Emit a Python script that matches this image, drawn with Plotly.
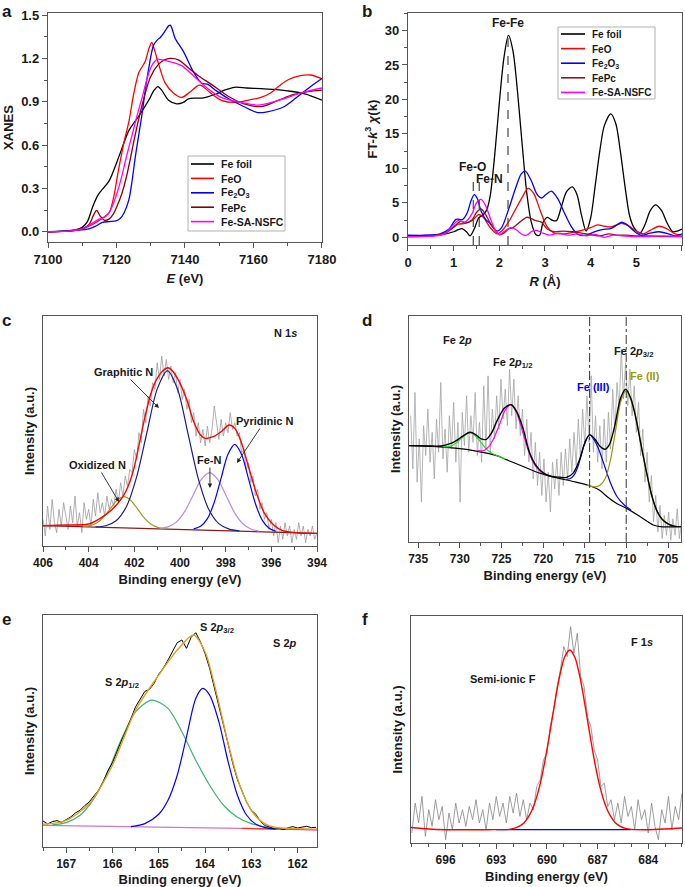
import plotly.graph_objects as go

FONT = "Liberation Sans, Arial, Helvetica, sans-serif"
INK = "#1a1a1a"
AXIS_LINE = "#555555"
W, H = 685, 887

# ---------------- (a) Fe K-edge XANES ----------------
A_FOIL_E = [7100, 7105, 7108, 7110, 7111.5, 7113, 7114.5, 7115.4, 7117.8, 7120.7,
            7123.6, 7126.5, 7129.4, 7131, 7132.1, 7133.2, 7135.2, 7137.6, 7139.5, 7141,
            7143, 7145, 7148.7, 7151.5, 7154.5, 7158, 7162.2, 7166, 7170, 7175, 7180]
A_FOIL = [0.0, 0.004, 0.012, 0.03, 0.07, 0.17, 0.25, 0.28, 0.35, 0.52,
          0.70, 0.80, 0.91, 0.98, 1.005, 0.98, 0.91, 0.885, 0.895, 0.92,
          0.925, 0.925, 0.95, 0.98, 1.0, 0.995, 0.99, 0.985, 0.975, 0.955, 0.91]
A_FEO_E = [7100, 7106, 7110, 7113, 7115, 7117.8, 7119, 7120.6, 7122.2, 7123.6,
           7125, 7126.5, 7128.4, 7129.5, 7130.3, 7131.2, 7132.3, 7134.2, 7136.6, 7139,
           7141.4, 7144, 7145, 7147.2, 7150.6, 7154.5, 7158.3, 7162.2, 7165, 7167,
           7170, 7173.7, 7176.6, 7180]
A_FEO = [0.0, 0.006, 0.02, 0.05, 0.08, 0.13, 0.22, 0.43, 0.62, 0.76,
         0.95, 1.10, 1.18, 1.27, 1.31, 1.25, 1.16, 1.03, 0.96, 0.93,
         0.965, 1.015, 1.01, 0.965, 0.91, 0.895, 0.91, 0.93, 0.96, 1.0,
         1.05, 1.08, 1.085, 1.06]
A_FE2O3_E = [7100, 7108, 7112, 7114, 7115.9, 7118, 7119.8, 7121, 7122.2, 7123.6,
             7124.6, 7125.5, 7126.5, 7127.5, 7128.4, 7129.4, 7130.8, 7132, 7132.8, 7134.2,
             7135.2, 7135.7, 7136.3, 7137.1, 7139.5, 7142.4, 7144.8, 7146.7, 7149.2, 7153.5,
             7157.3, 7161.2, 7164, 7168.9, 7173.7, 7177, 7180]
A_FE2O3 = [0.0, 0.01, 0.02, 0.04, 0.065, 0.07, 0.075, 0.09, 0.13, 0.22,
           0.36, 0.52, 0.67, 0.82, 0.98, 1.13, 1.29, 1.33, 1.345, 1.39,
           1.425, 1.43, 1.40, 1.34, 1.25, 1.11, 1.03, 1.02, 0.975, 0.91,
           0.865, 0.825, 0.83, 0.865, 0.95, 1.01, 1.06]
A_FEPC_E = [7100, 7107, 7110, 7112, 7113.2, 7114.2, 7115.2, 7116.4, 7117.8, 7119,
            7120.2, 7121.5, 7122.7, 7124, 7125.1, 7126.3, 7127.5, 7129.9, 7132.3, 7134,
            7135.7, 7138.1, 7141, 7143.9, 7147.7, 7152.5, 7157.3, 7162.2, 7167, 7171.8,
            7176, 7180]
A_FEPC = [0.0, 0.006, 0.02, 0.05, 0.11, 0.148, 0.11, 0.08, 0.087, 0.12,
          0.18, 0.26, 0.36, 0.50, 0.63, 0.76, 0.88, 1.07, 1.16, 1.19,
          1.20, 1.19, 1.135, 1.08, 1.02, 0.94, 0.885, 0.866, 0.907, 0.95,
          0.97, 0.98]
A_SA_E = [7100, 7107, 7110, 7112, 7114.9, 7116.5, 7117.8, 7119, 7120.2, 7121.5,
          7122.7, 7124, 7125.1, 7126.3, 7127.5, 7128.7, 7129.9, 7131, 7132.1, 7133.5,
          7135.2, 7139, 7142.9, 7146.7, 7150.6, 7156.4, 7161.2, 7167, 7173.7, 7180]
A_SA = [0.0, 0.006, 0.02, 0.045, 0.087, 0.10, 0.13, 0.19, 0.27, 0.38,
        0.50, 0.62, 0.72, 0.83, 0.93, 1.04, 1.13, 1.175, 1.195, 1.19,
        1.18, 1.15, 1.07, 0.99, 0.93, 0.895, 0.877, 0.907, 0.96, 0.995]

SAMPLES = ["Fe foil", "FeO", "Fe<sub>2</sub>O<sub>3</sub>", "FePc", "Fe-SA-NSFC"]
A_COLORS = ["#000000", "#ff0000", "#0000ff", "#8b0000", "#ff00ff"]
B_COLORS = ["#000000", "#ff0000", "#0000ff", "#8b1a1a", "#ff00ff"]

# ---------------- (b) FT-EXAFS ----------------
B_FOIL_R = [0, 0.3, 0.6, 0.8, 1.0, 1.1, 1.18, 1.28, 1.36, 1.45,
            1.55, 1.65, 1.72, 1.8, 1.9, 2.0, 2.1, 2.2, 2.3, 2.4,
            2.5, 2.6, 2.7, 2.8, 2.88, 2.96, 3.05, 3.15, 3.25, 3.35,
            3.47, 3.6, 3.7, 3.8, 3.9, 4.0, 4.1, 4.2, 4.3, 4.44,
            4.55, 4.65, 4.75, 4.85, 4.95, 5.08, 5.2, 5.3, 5.42, 5.55,
            5.68, 5.8, 5.9, 6.0]
B_FOIL = [0.2, 0.25, 0.3, 0.45, 0.8, 1.1, 1.25, 0.8, 0.2, 1.2,
          2.8, 3.3, 3.9, 6.0, 12.0, 19.5, 26.0, 29.3, 27.0, 21.0,
          13.5, 6.5, 2.2, 0.4, 0.3, 2.2, 2.9, 2.5, 2.4, 4.2,
          6.6, 7.3, 6.2, 3.2, 0.9, 2.8, 7.5, 12.5, 16.2, 17.9,
          16.5, 12.5, 7.5, 3.2, 1.4, 0.6, 2.0, 3.8, 4.7, 3.9,
          2.0, 0.8, 0.9, 1.2]
B_FEO_R = [0, 0.5, 0.8, 0.95, 1.1, 1.25, 1.4, 1.55, 1.65, 1.8,
           1.95, 2.05, 2.2, 2.35, 2.5, 2.63, 2.75, 2.9, 3.05, 3.2,
           3.4, 3.6, 3.8, 4.0, 4.15, 4.3, 4.45, 4.6, 4.7, 4.85,
           5.0, 5.15, 5.3, 5.5, 5.65, 5.85, 6.0]
B_FEO = [0.1, 0.2, 0.5, 1.2, 1.9, 2.0, 2.4, 3.3, 2.9, 1.4,
         0.5, 0.9, 2.2, 4.0, 5.8, 7.1, 6.4, 3.8, 1.5, 0.6,
         0.5, 0.7, 1.0, 1.4, 1.8, 1.6, 1.5, 1.9, 2.0, 1.6,
         0.9, 0.5, 1.0, 1.6, 1.3, 0.5, 0.3]
B_FE2O3_R = [0, 0.4, 0.7, 0.9, 1.05, 1.2, 1.3, 1.38, 1.45, 1.52,
             1.6, 1.7, 1.8, 1.95, 2.05, 2.2, 2.35, 2.48, 2.57, 2.7,
             2.82, 2.92, 3.02, 3.14, 3.28, 3.42, 3.58, 3.72, 3.9, 4.05,
             4.25, 4.45, 4.58, 4.68, 4.8, 4.95, 5.1, 5.3, 5.5, 5.7,
             5.85, 6.0]
B_FE2O3 = [0.3, 0.3, 0.5, 1.2, 2.6, 2.6, 3.6, 5.3, 6.2, 5.6,
           3.8, 2.6, 2.0, 0.9, 1.4, 4.0, 7.0, 9.2, 9.6, 8.2,
           6.3, 5.7, 6.2, 6.7, 5.6, 3.6, 1.5, 0.4, 0.3, 0.7,
           1.1, 1.3, 1.8, 2.2, 1.8, 0.9, 0.3, 0.6, 0.8, 0.5,
           0.2, 0.5]
B_FEPC_R = [0, 0.5, 0.8, 1.0, 1.15, 1.27, 1.4, 1.5, 1.6, 1.7,
            1.85, 2.0, 2.1, 2.2, 2.3, 2.45, 2.6, 2.7, 2.8, 2.92,
            3.05, 3.2, 3.4, 3.6, 3.8, 4.0, 4.2, 4.4, 4.6, 4.8,
            5.0, 5.3, 5.6, 6.0]
B_FEPC = [0.1, 0.2, 0.6, 1.5, 2.3, 2.1, 2.5, 3.6, 4.1, 3.3,
          1.5, 0.4, 0.6, 1.2, 1.4, 2.2, 2.9, 2.7, 2.4, 2.2,
          1.2, 0.8, 0.9, 0.8, 0.6, 0.4, 0.2, 0.5, 0.3, 0.3,
          0.2, 0.2, 0.1, 0.1]
B_SA_R = [0, 0.6, 0.8, 0.95, 1.1, 1.25, 1.4, 1.5, 1.6, 1.7,
          1.8, 1.9, 2.0, 2.12, 2.25, 2.37, 2.5, 2.6, 2.72, 2.82,
          2.95, 3.1, 3.3, 3.5, 3.7, 3.9, 4.1, 4.3, 4.5, 4.7,
          4.9, 5.2, 5.6, 6.0]
B_SA = [0.1, 0.2, 0.5, 1.5, 2.4, 2.2, 3.4, 5.0, 5.5, 4.6,
        2.8, 1.2, 0.4, 0.9, 1.4, 1.1, 0.4, 0.3, 0.9, 1.0,
        0.6, 0.3, 0.6, 0.3, 0.5, 0.2, 0.4, 0.0, 0.3, 0.2,
        0.1, 0.1, 0.2, 0.1]
B_REF_R = [1.43, 1.56, 2.19]          # Fe-O, Fe-N, Fe-Fe
B_REF_TOP = [9.2, 8.2, 29.8]

# ---------------- (c) N 1s ----------------
C_RAW_START, C_RAW_STEP = 406.0, 0.1
C_RAW = [8, 3, 12, 5, 14, 7, 4, 11, 6, 13,
         9, 5, 12, 7, 15, 6, 10, 4, 13, 8,
         11, 6, 14, 9, 16, 10, 13, 9, 15, 11,
         14, 12, 17, 13, 19, 15, 21, 18, 23, 22,
         29, 26, 34, 31, 41, 37, 45, 42, 49, 47,
         55, 50, 57, 51, 56, 50, 54, 49, 52, 46,
         50, 44, 47, 41, 44, 37, 40, 33, 37, 31,
         35, 30, 36, 31, 35, 42, 37, 32, 38, 33,
         37, 34, 40, 35, 37, 33, 34, 28, 29, 23,
         25, 19, 21, 15, 17, 11, 13, 8, 10, 5,
         8, 3, 7, 1, 6, 2, 7, 3, 6, 1,
         5, 2, 7, 3, 6, 1, 5, 3, 6, 2,
         4]
C_BASE_EV = [406, 403, 401, 399, 397, 394]
C_BASE = [6.1, 5.53, 5.14, 4.76, 4.38, 3.8]
C_OX_EV = [404.25, 403.95, 403.65, 403.35, 403.05, 402.75, 402.45, 402.15, 401.85, 401.55, 401.25, 400.95, 400.65]
C_OX = [5.86, 6.12, 6.92, 8.64, 11.23, 13.78, 14.82, 13.66, 11.0, 8.30, 6.46, 5.54, 5.17]
C_GN_EV = [403.7, 403.25, 402.8, 402.35, 401.9, 401.45, 401.0, 400.55, 400.1, 399.65, 399.2, 398.75, 398.3, 397.85, 397.4]
C_GN = [5.76, 6.09, 7.57, 11.81, 20.75, 34.06, 47.08, 52.56, 46.91, 33.71, 20.23, 11.12, 6.71, 5.06, 4.55]
C_FN_EV = [400.86, 400.5, 400.14, 399.78, 399.42, 399.06, 398.7, 398.34, 397.98, 397.62, 397.26, 396.9, 396.54]
C_FN = [5.31, 5.81, 7.32, 10.53, 15.34, 20.05, 22.0, 19.91, 15.06, 10.11, 6.76, 5.12, 4.48]
C_PN_EV = [399.4, 399.1, 398.8, 398.5, 398.2, 397.9, 397.6, 397.3, 397.0, 396.7, 396.4, 396.1, 395.8]
C_PN = [5.13, 5.92, 8.23, 13.12, 20.39, 27.51, 30.49, 27.39, 20.16, 12.77, 7.77, 5.34, 4.44]
C_FIT_EV = [406.0, 405.0, 404.0, 403.5, 403.0, 402.5, 402.25, 402.0, 401.75, 401.5,
            401.25, 401.0, 400.75, 400.53, 400.3, 400.0, 399.7, 399.4, 399.1, 398.9,
            398.55, 398.2, 397.85, 397.6, 397.35, 397.0, 396.65, 396.3, 395.9, 395.5,
            394.75, 394.0]
C_FIT = [6.1, 6.3, 6.6, 8.3, 10.8, 14.8, 18.3, 23.8, 31.8, 39.8,
         46.3, 50.3, 52.6, 53.5, 52.3, 48.8, 43.8, 37.3, 33.3, 32.3,
         32.8, 34.3, 36.3, 35.3, 31.8, 23.8, 15.8, 9.8, 6.3, 4.6,
         3.9, 3.8]

# ---------------- (d) Fe 2p ----------------
D_RAW_START, D_RAW_STEP = 735.9, 0.258
D_RAW = [38, 22, 45, 18, 31, 12, 35, 26, 40, 24,
         33, 19, 37, 27, 48, 25, 34, 21, 38, 28,
         42, 24, 36, 12, 39, 29, 44, 27, 38, 30,
         45, 26, 36, 24, 47, 28, 50, 27, 40, 31,
         44, 34, 49, 37, 46, 35, 52, 38, 49, 34,
         44, 32, 40, 26, 37, 24, 33, 19, 30, 17,
         27, 14, 25, 12, 21, 9, 24, 16, 25, 14,
         27, 17, 28, 19, 31, 21, 33, 23, 37, 25,
         40, 29, 44, 30, 50, 27, 38, 24, 35, 22,
         37, 24, 39, 28, 46, 33, 48, 40, 58, 43,
         54, 41, 52, 38, 47, 33, 42, 26, 34, 18,
         27, 12, 20, 6, 14, 3, 11, 1, 8, 2,
         9, 0.5, 7, 2, 10, 1, 6]
D_BG_EV = [736.1, 732.8, 729.7, 728.36, 725.57, 724.33, 722.47, 720.41, 718.34, 716.38,
           714.42, 713.18, 712.35, 711.12, 709.98, 708.33, 706.78, 705.95, 703.37]
D_BG = [29.0, 28.7, 28.0, 27.5, 26.0, 24.7, 22.8, 20.7, 19.3, 18.2,
        16.9, 15.5, 13.7, 11.5, 10.1, 7.6, 5.1, 4.6, 4.6]
D_GREEN_EV = [732.07, 731.51, 730.94, 730.37, 729.8, 729.23, 728.67, 728.1, 727.53, 726.96, 726.4, 725.83, 725.26, 724.54]
D_GREEN = [28.7, 28.6, 29.0, 29.9, 31.2, 32.4, 32.8, 31.9, 30.2, 28.4, 27.1, 26.3, 25.7, 25.0]
D_MAG_EV = [727.84, 727.17, 726.5, 725.83, 725.16, 724.49, 723.81, 723.14, 722.47, 721.8, 721.13, 720.46, 719.79]
D_MAG = [27.5, 27.5, 28.8, 31.7, 35.9, 40.0, 41.3, 38.6, 33.2, 27.7, 23.7, 21.5, 20.5]
D_FE3_EV = [717.21, 716.74, 716.28, 715.81, 715.35, 714.88, 714.42, 713.59, 712.77, 711.94, 711.12, 710.29, 709.46]
D_FE3 = [18.8, 19.1, 20.2, 22.8, 26.8, 30.7, 32.2, 29.4, 23.9, 17.9, 13.6, 11.2, 9.6]
D_FE2_EV = [714.73, 713.8, 713.18, 712.56, 711.94, 711.32, 710.7, 710.08, 709.15, 708.23, 707.3, 706.37, 705.44, 704.51]
D_FE2 = [17.1, 16.6, 17.1, 19.0, 24.4, 33.3, 42.1, 45.5, 40.4, 29.0, 17.5, 9.5, 6.2, 5.0]
D_FIT_EV = [736.1, 733.83, 732.28, 731.25, 730.42, 729.7, 728.77, 728.05, 727.43, 726.81,
            726.19, 725.47, 724.64, 723.81, 723.09, 722.37, 721.65, 720.82, 719.99, 718.96,
            718.03, 717.21, 716.38, 715.66, 715.04, 714.42, 713.8, 713.18, 712.56, 712.05,
            711.43, 710.7, 710.08, 709.46, 708.84, 708.23, 707.61, 706.99, 706.37, 705.75,
            704.92, 704.1, 703.37]
D_FIT = [29.0, 28.9, 28.9, 29.5, 30.5, 31.8, 33.0, 32.2, 31.0, 30.9,
         32.8, 36.8, 40.3, 41.3, 38.8, 33.8, 27.0, 22.9, 20.8, 19.7,
         19.5, 19.4, 20.8, 24.5, 29.5, 32.3, 31.0, 28.8, 27.9, 29.3,
         34.7, 43.3, 46.0, 43.1, 36.9, 29.0, 21.2, 14.2, 9.5, 6.9,
         5.3, 4.7, 4.6]
D_REF_EV = [714.42, 710.03]           # Fe(III), Fe(II)

# ---------------- (e) S 2p ----------------
E_RAW_START, E_RAW_STEP = 167.5, 0.1
E_RAW = [7.8, 6.9, 7.6, 7.9, 7.4, 8.3, 9.0, 10.2, 11.0, 12.4,
         13.5, 15.3, 17.0, 19.5, 22.8, 25.2, 28.8, 32.0, 35.0, 38.8,
         42.0, 44.3, 46.6, 47.2, 49.0, 51.8, 53.6, 56.0, 58.7, 61.2,
         62.0, 59.5, 62.8, 64.2, 61.5, 58.0, 53.5, 48.0, 42.5, 36.5,
         30.8, 25.0, 20.2, 16.8, 13.4, 11.0, 9.8, 7.6, 6.4, 6.0,
         5.4, 5.6, 5.2, 5.8, 6.1, 5.7, 6.0, 6.2, 5.8, 5.9]
E_FIT_EV = [167.5, 167.0, 166.5, 166.0, 165.5, 165.0, 164.6, 164.25, 164.0, 163.75,
            163.5, 163.25, 163.0, 162.75, 162.5, 162.0, 161.58]
E_FIT = [6.8, 8.0, 13.0, 24.5, 41.0, 51.5, 59.0, 63.5, 58.5, 46.0,
         31.0, 18.5, 11.0, 7.3, 5.9, 5.5, 5.3]
E_HALF_EV = [167.3, 167.0, 166.7, 166.4, 166.1, 165.8, 165.5, 165.15, 164.8, 164.5,
             164.2, 163.9, 163.6, 163.3, 163.0, 162.7, 162.4]
E_HALF = [6.6, 7.3, 9.5, 14.5, 22.5, 32.5, 40.5, 44.0, 41.5, 34.5,
          26.0, 18.5, 12.5, 8.9, 7.0, 6.0, 5.6]
E_32_EV = [165.6, 165.3, 165.0, 164.8, 164.6, 164.4, 164.2, 164.05, 163.9, 163.7,
           163.5, 163.3, 163.1, 162.9, 162.7, 162.5]
E_32 = [6.1, 7.0, 9.8, 14.0, 21.5, 33.0, 44.5, 47.5, 45.5, 37.5,
        25.5, 15.5, 9.5, 6.8, 5.8, 5.4]
E_BASE_EV = [167.5, 161.58]
E_BASE = [6.5, 5.2]
E_BASE2_EV = [163.2, 161.58]
E_BASE2 = [5.6, 5.1]

# ---------------- (f) F 1s ----------------
F_RAW_START, F_RAW_STEP = 698.0, 0.2
F_RAW = [3, 12, 6, 14, 2, 10, 5, 13, 7, 11,
         1, 9, 4, 12, 6, 10, 5, 11, 7, 13,
         6, 10, 4, 12, 7, 14, 8, 12, 6, 14,
         9, 15, 8, 13, 7, 12, 10, 17, 19, 25,
         27, 35, 40, 47, 52, 59, 56, 65, 57, 63,
         50, 47, 38, 35, 28, 25, 17, 18, 11, 13,
         7, 12, 6, 14, 8, 11, 4, 13, 7, 10,
         3, 12, 5, 1, 10, 6, 14, 4, 11, 7,
         15]
F_FIT_EV = [698.1, 697.0, 696.0, 693.5, 692.25, 691.95, 691.65, 691.35, 691.05, 690.75,
            690.45, 690.15, 689.85, 689.55, 689.25, 688.95, 688.65, 688.35, 688.05, 687.75,
            687.45, 687.15, 686.85, 686.55, 686.25, 685.95, 685.65, 685.35, 685.0, 684.0,
            683.0, 682.0]
F_FIT = [4.7, 4.2, 4.0, 4.0, 4.1, 4.4, 5.0, 6.1, 8.2, 11.6,
         16.7, 23.8, 32.4, 41.6, 50.0, 55.9, 58.0, 55.9, 50.0, 41.6,
         32.4, 23.8, 16.7, 11.6, 8.2, 6.1, 5.0, 4.4, 4.1, 4.0,
         4.2, 4.5]
F_BASE_EV = [693.0, 685.0]
F_BASE = [4.0, 4.0]


def grid(start, step, n):
    return [round(start - step * i, 3) for i in range(n)]


def px(x):
    return x / W


def py(y):
    return 1 - y / H


def line(x, y, color, ax, width=1.3, name=None, spline=True):
    return go.Scatter(
        x=x, y=y, mode="lines", name=name,
        line=dict(color=color, width=width, shape="spline" if spline else "linear", smoothing=0.8),
        xaxis="x" + ax, yaxis="y" + ax, showlegend=False, hoverinfo="skip",
    )


def x_axis(domain, rng, anchor, title, dtick, minor, tick0=None, size=12, standoff=6):
    return dict(
        domain=domain, range=rng, anchor=anchor, dtick=dtick, tick0=tick0, automargin=False,
        showline=True, mirror=True, linecolor=AXIS_LINE, linewidth=1.4,
        ticks="outside", ticklen=5, tickwidth=1.2, tickcolor=AXIS_LINE,
        minor=dict(dtick=minor, ticks="outside", ticklen=3, tickcolor=AXIS_LINE),
        showgrid=False, zeroline=False,
        tickfont=dict(size=size, color=INK, weight="bold"),
        title=dict(text=title, font=dict(size=13, color=INK, weight="bold"), standoff=standoff),
    )


def y_axis(domain, rng, anchor, title, dtick=None, minor=None, fmt=None, size=12, standoff=4):
    ax = dict(
        domain=domain, range=rng, anchor=anchor, automargin=False,
        showline=True, mirror=True, linecolor=AXIS_LINE, linewidth=1.4,
        showgrid=False, zeroline=False,
        title=dict(text=title, font=dict(size=13, color=INK, weight="bold"), standoff=standoff),
    )
    if dtick is None:
        ax.update(showticklabels=False, ticks="")
    else:
        ax.update(dtick=dtick, tickformat=fmt, ticks="outside", ticklen=5, tickwidth=1.2,
                  tickcolor=AXIS_LINE, minor=dict(dtick=minor, ticks="outside", ticklen=3,
                                                  tickcolor=AXIS_LINE),
                  tickfont=dict(size=size, color=INK, weight="bold"))
    return ax


fig = go.Figure()

# (a)
for xs, ys, col, nm in zip([A_FOIL_E, A_FEO_E, A_FE2O3_E, A_FEPC_E, A_SA_E],
                           [A_FOIL, A_FEO, A_FE2O3, A_FEPC, A_SA], A_COLORS, SAMPLES):
    fig.add_trace(line(xs, ys, col, "", name=nm))

# (b)
for xs, ys, col, nm in zip([B_FOIL_R, B_FEO_R, B_FE2O3_R, B_FEPC_R, B_SA_R],
                           [B_FOIL, B_FEO, B_FE2O3, B_FEPC, B_SA], B_COLORS, SAMPLES):
    fig.add_trace(line(xs, ys, col, "2", name=nm))

# (c)
fig.add_trace(line(grid(C_RAW_START, C_RAW_STEP, len(C_RAW)), C_RAW, "#9a9a9a", "3", width=0.8, spline=False))
fig.add_trace(line(C_BASE_EV, C_BASE, "#8b1a1a", "3", width=1.2, spline=False))
fig.add_trace(line(C_OX_EV, C_OX, "#9b9b2a", "3", width=1.2))
fig.add_trace(line(C_FN_EV, C_FN, "#b98be6", "3", width=1.2))
fig.add_trace(line(C_PN_EV, C_PN, "#0000ff", "3", width=1.2))
fig.add_trace(line(C_GN_EV, C_GN, "#1c1c8c", "3", width=1.2))
fig.add_trace(line(C_FIT_EV, C_FIT, "#ff0000", "3", width=1.4))

# (d)
fig.add_trace(line(grid(D_RAW_START, D_RAW_STEP, len(D_RAW)), D_RAW, "#a3a3a3", "4", width=0.8, spline=False))
fig.add_trace(line(D_BG_EV, D_BG, "#000000", "4", width=1.2))
fig.add_trace(line(D_GREEN_EV, D_GREEN, "#22dd22", "4", width=1.2))
fig.add_trace(line(D_MAG_EV, D_MAG, "#ff00ff", "4", width=1.2))
fig.add_trace(line(D_FE3_EV, D_FE3, "#0000ff", "4", width=1.2))
fig.add_trace(line(D_FE2_EV, D_FE2, "#9a9a10", "4", width=1.2))
fig.add_trace(line(D_FIT_EV, D_FIT, "#000000", "4", width=1.4))

# (e)
fig.add_trace(line(E_BASE_EV, E_BASE, "#cc77cc", "5", width=1.3, spline=False))
fig.add_trace(line(E_BASE2_EV, E_BASE2, "#ff3030", "5", width=1.3, spline=False))
fig.add_trace(line(E_HALF_EV, E_HALF, "#3cb371", "5", width=1.2))
fig.add_trace(line(E_32_EV, E_32, "#0000ff", "5", width=1.2))
fig.add_trace(line(grid(E_RAW_START, E_RAW_STEP, len(E_RAW)), E_RAW, "#000000", "5", width=1.0, spline=False))
fig.add_trace(line(E_FIT_EV, E_FIT, "#e0a020", "5", width=1.4))

# (f)
fig.add_trace(line(grid(F_RAW_START, F_RAW_STEP, len(F_RAW)), F_RAW, "#858585", "6", width=0.8, spline=False))
fig.add_trace(line(F_BASE_EV, F_BASE, "#0000ff", "6", width=1.3, spline=False))
fig.add_trace(line(F_FIT_EV, F_FIT, "#ff0000", "6", width=1.4))

B_Y_RANGE = [-1.12, 32.5]
shapes = []
for r, top in zip(B_REF_R, B_REF_TOP):
    shapes.append(dict(type="line", xref="x2", yref="y2", x0=r, x1=r, y0=B_Y_RANGE[0], y1=top,
                       line=dict(color="#444444", width=1.2, dash="dash")))
for ev in D_REF_EV:
    shapes.append(dict(type="line", xref="x4", yref="y4 domain", x0=ev, x1=ev, y0=0, y1=1,
                       line=dict(color="#333333", width=1, dash="dashdot")))


def text(x, y, s, size=11, color=INK, xanchor="center"):
    return dict(xref="paper", yref="paper", x=x, y=y, text=s, showarrow=False,
                xanchor=xanchor, yanchor="middle", font=dict(size=size, color=color, weight="bold"))


def pointer(xr, yr, x, y, ax, ay, s):
    return dict(xref=xr, yref=yr, x=x, y=y, ax=ax, ay=ay, text=s, showarrow=True,
                arrowhead=2, arrowsize=1, arrowwidth=0.9, arrowcolor="#222222",
                font=dict(size=11, color=INK, weight="bold"))


def panel_letter(x, y, s):
    return dict(xref="paper", yref="paper", x=x, y=y, text=s, showarrow=False,
                xanchor="left", yanchor="top", font=dict(size=17, color=INK, weight="bold"))


annotations = [
    panel_letter(0.0, 1.0, "a"),
    panel_letter(0.526, 1.0, "b"),
    panel_letter(0.0, 0.652, "c"),
    panel_letter(0.526, 0.652, "d"),
    panel_letter(0.0, 0.314, "e"),
    panel_letter(0.526, 0.314, "f"),
    text(0.7416, 0.9741, "Fe-Fe", 12),
    text(0.6891, 0.8117, "Fe-O", 12),
    text(0.7139, 0.7982, "Fe-N", 12),
    text(0.4161, 0.6246, "N 1<i>s</i>"),
    pointer("x3", "y3", 400.92, 41.4, -36, -36, "Graphitic N"),
    pointer("x3", "y3", 402.67, 13.2, -22, -37, "Oxidized N"),
    pointer("x3", "y3", 398.69, 17.4, 0, -28, "Fe-N"),
    pointer("x3", "y3", 397.51, 24.9, 28, -42, "Pyridinic N"),
    text(0.6672, 0.6167, "Fe 2<i>p</i>"),
    text(0.7489, 0.5908, "Fe 2<i>p</i><sub>1/2</sub>"),
    text(0.9241, 0.6032, "Fe 2<i>p</i><sub>3/2</sub>"),
    text(0.8657, 0.5637, "Fe (III)", color="#0000ff"),
    text(0.9416, 0.5761, "Fe (II)", color="#9a9a10"),
    text(0.3168, 0.292, "S 2<i>p</i><sub>3/2</sub>"),
    text(0.1781, 0.230, "S 2<i>p</i><sub>1/2</sub>"),
    text(0.4161, 0.2751, "S 2<i>p</i>"),
    text(0.9372, 0.2762, "F 1<i>s</i>"),
    text(0.7343, 0.2345, "Semi-ionic F"),
]


# compact legends (plotly's own legend rows are taller than the original's)
def add_legend(box, row0, step, sample_x, text_x, colors, size):
    x0, x1, y0, y1 = box
    shapes.append(dict(type="rect", xref="paper", yref="paper", layer="above",
                       x0=px(x0), x1=px(x1), y0=py(y1), y1=py(y0),
                       fillcolor="white", line=dict(color="#b0b0b0", width=1)))
    for i, (name, col) in enumerate(zip(SAMPLES, colors)):
        yy = row0 + step * i
        shapes.append(dict(type="line", xref="paper", yref="paper", layer="above",
                           x0=px(sample_x[0]), x1=px(sample_x[1]), y0=py(yy), y1=py(yy),
                           line=dict(color=col, width=1.6)))
        annotations.append(dict(xref="paper", yref="paper", x=px(text_x), y=py(yy + 0.5),
                                text=name, showarrow=False, xanchor="left", yanchor="middle",
                                font=dict(size=size, color=INK, weight="bold")))


add_legend((188, 285, 156, 231), 164, 14.4, (191, 214), 219, A_COLORS, 10.5)
add_legend((558, 655, 27, 99), 34, 14.6, (561, 585), 590, B_COLORS, 10)

fig.update_layout(
    template="none",
    width=W, height=H, autosize=False,
    margin=dict(l=0, r=0, t=0, b=0, pad=0),
    paper_bgcolor="white", plot_bgcolor="white",
    font=dict(family=FONT, color=INK),
    showlegend=False,
    xaxis=x_axis([0.0701, 0.470], [7100, 7180], "y", "<i>E</i> (eV)", 20, 10, size=13, standoff=8),
    yaxis=y_axis([0.7275, 0.985], [-0.069, 1.512], "x", "XANES", 0.3, 0.15, ".1f", size=13),
    xaxis2=x_axis([0.5956, 0.9956], [0, 6], "y2", "<i>R</i> (Å)", 1, 0.5, size=13, standoff=8),
    yaxis2=y_axis([0.7238, 0.985], B_Y_RANGE, "x2", "FT-<i>k</i><sup>3</sup> <i>χ</i>(k)", 5, 2.5, size=13),
    xaxis3=x_axis([0.0628, 0.4628], [406, 394], "y3", "Binding energy (eV)", 2, 1),
    yaxis3=y_axis([0.3844, 0.6437], [0, 69], "x3", "Intensity (a.u.)"),
    xaxis4=x_axis([0.5971, 0.9942], [736.1, 703.45], "y4", "Binding energy (eV)", 5, 2.5),
    yaxis4=y_axis([0.389, 0.6437], [0, 68], "x4", "Intensity (a.u.)"),
    xaxis5=x_axis([0.0628, 0.4628], [167.5, 161.58], "y5", "Binding energy (eV)", 1, 0.5),
    yaxis5=y_axis([0.0451, 0.3067], [0, 69.5], "x5", "Intensity (a.u.)"),
    xaxis6=x_axis([0.60, 0.9956], [698.05, 682.0], "y6", "Binding energy (eV)", 3, 1, tick0=684),
    yaxis6=y_axis([0.0496, 0.3055], [0, 68.2], "x6", "Intensity (a.u.)"),
    shapes=shapes,
    annotations=annotations,
)

# the page's default 8px body margin would shift the figure and add a scrollbar
fig.write_html("out.html", config={"displayModeBar": False},
               post_script="document.body.style.margin='0px';")
